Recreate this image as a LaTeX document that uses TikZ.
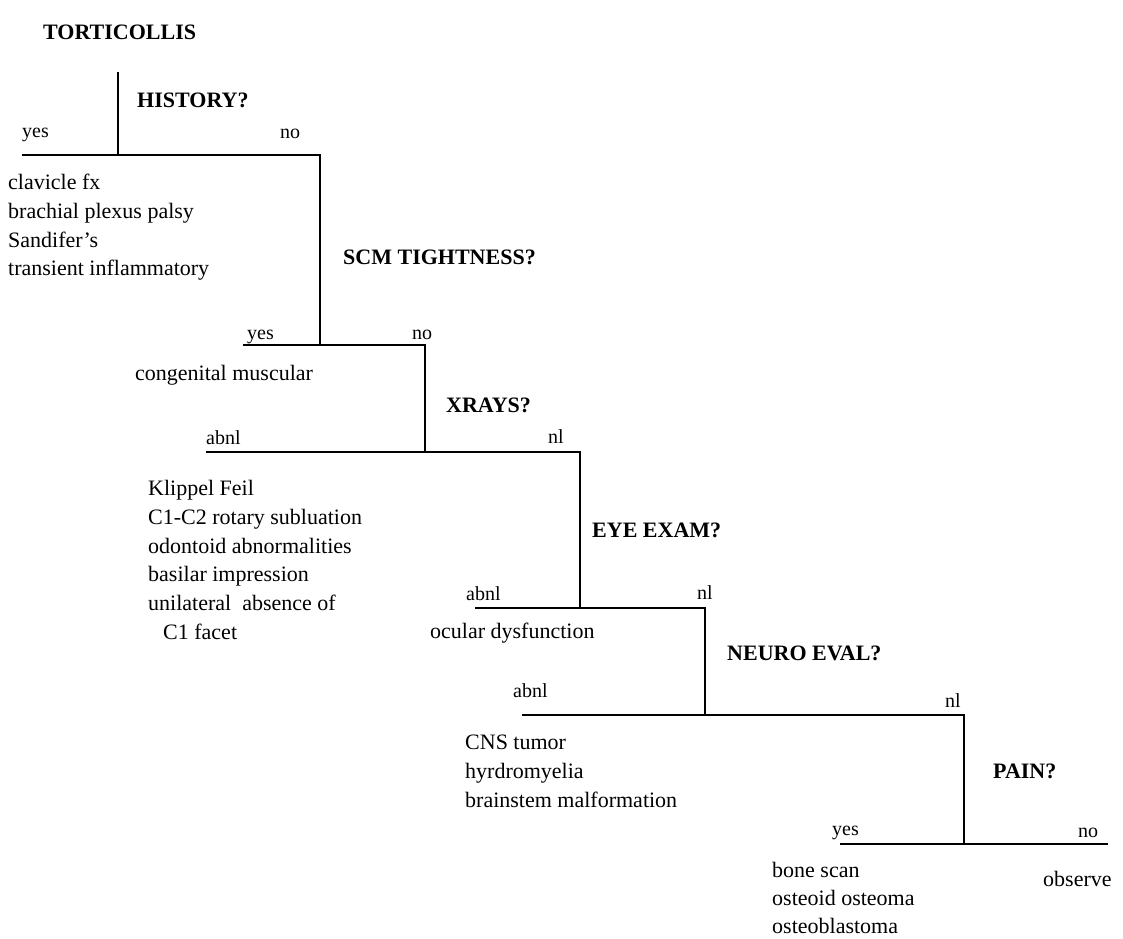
\documentclass[tikz,border=0pt]{standalone}
\usepackage{fontspec}
\setmainfont{Liberation Serif}
\begin{document}
\begin{tikzpicture}[x=1pt,y=-1pt,
  txt/.style={anchor=mid west, inner sep=0pt, yshift=-5pt, font=\fontsize{22}{26}\selectfont},
  quest/.style={anchor=mid west, inner sep=0pt, yshift=-5pt, font=\fontsize{22}{26}\selectfont\bfseries},
  lbl/.style={anchor=mid west, inner sep=0pt, yshift=-5pt, font=\fontsize{20}{24}\selectfont},
  br/.style={line width=1.6pt}]
\useasboundingbox (0,0) rectangle (1123,938);
% junction coordinates
\coordinate (hT) at (118,72);
\coordinate (hM) at (118,155);
\coordinate (hL) at (22,155);
\coordinate (hR) at (320,155);
\coordinate (sM) at (320,345);
\coordinate (sL) at (243,345);
\coordinate (sR) at (425,345);
\coordinate (xM) at (425,452);
\coordinate (xL) at (206,452);
\coordinate (xR) at (580,452);
\coordinate (eM) at (580,608);
\coordinate (eL) at (475,608);
\coordinate (eR) at (705,608);
\coordinate (nM) at (705,715);
\coordinate (nL) at (522,715);
\coordinate (nR) at (964,715);
\coordinate (pM) at (964,844);
\coordinate (pL) at (840,844);
\coordinate (pR) at (1108,844);
% branches
\draw[br] (hT) -- (hM);
\draw[br] (hL) -- (hR) -- (sM);
\draw[br] (sL) -- (sR) -- (xM);
\draw[br] (xL) -- (xR) -- (eM);
\draw[br] (eL) -- (eR) -- (nM);
\draw[br] (nL) -- (nR) -- (pM);
\draw[br] (pL) -- (pR);
% title
\node[quest] (title) at (43,32) {TORTICOLLIS};
% history
\node[quest] (qh) at (137,100) {HISTORY?};
\node[lbl] (hy) at (22,130) {yes};
\node[lbl] (hn) at (280,131) {no};
\node[txt] (h1) at (8,182) {clavicle fx};
\node[txt] (h2) at (8,211) {brachial plexus palsy};
\node[txt] (h3) at (8,240) {Sandifer's};
\node[txt] (h4) at (8,268) {transient inflammatory};
% scm
\node[quest] (qs) at (343,257) {SCM TIGHTNESS?};
\node[lbl] (sy) at (247,332) {yes};
\node[lbl] (sn) at (412,332) {no};
\node[txt] (s1) at (135,373) {congenital muscular};
% xrays
\node[quest] (qx) at (446,405) {XRAYS?};
\node[lbl] (xa) at (206,437) {abnl};
\node[lbl] (xn) at (548,436) {nl};
\node[txt] (x1) at (148,488) {Klippel Feil};
\node[txt] (x2) at (148,517) {C1-C2 rotary subluation};
\node[txt] (x3) at (148,546) {odontoid abnormalities};
\node[txt] (x4) at (148,574) {basilar impression};
\node[txt] (x5) at (148,603) {unilateral\ \ absence of};
\node[txt] (x6) at (163,632) {C1 facet};
% eye
\node[quest] (qe) at (592,530) {EYE EXAM?};
\node[lbl] (ea) at (466,593) {abnl};
\node[lbl] (en) at (697,592) {nl};
\node[txt] (e1) at (430,631) {ocular dysfunction};
% neuro
\node[quest] (qn) at (727,653) {NEURO EVAL?};
\node[lbl] (na) at (513,690) {abnl};
\node[lbl] (nn) at (945,700) {nl};
\node[txt] (n1) at (465,742) {CNS tumor};
\node[txt] (n2) at (465,771) {hyrdromyelia};
\node[txt] (n3) at (465,800) {brainstem malformation};
% pain
\node[quest] (qp) at (993,771) {PAIN?};
\node[lbl] (py) at (832,828) {yes};
\node[lbl] (pn) at (1078,830) {no};
\node[txt] (p1) at (772,870) {bone scan};
\node[txt] (p2) at (772,898) {osteoid osteoma};
\node[txt] (p3) at (772,926) {osteoblastoma};
\node[txt] (p4) at (1043,879) {observe};
\end{tikzpicture}
\end{document}
